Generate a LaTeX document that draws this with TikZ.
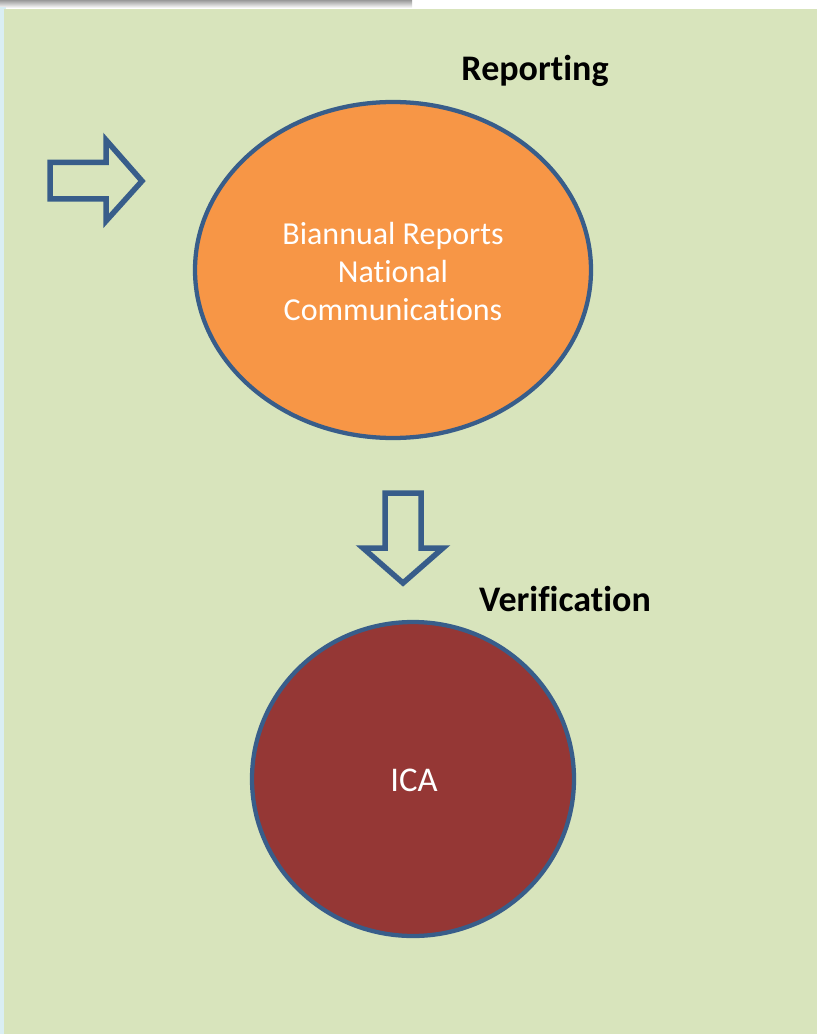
\documentclass[tikz,border=0pt]{standalone}
\usepackage{fontspec}
\setmainfont[Ligatures=NoCommon]{Carlito}
\definecolor{bggreen}{HTML}{D8E4BC}
\definecolor{bgblue}{HTML}{DAEEF3}
\definecolor{edgeblue}{HTML}{385D8A}
\definecolor{orangefill}{HTML}{F79646}
\definecolor{redfill}{HTML}{953735}
\begin{document}
\begin{tikzpicture}[x=0.75pt,y=-0.75pt,
  blockarrow/.style={draw=edgeblue,line width=5.5pt*0.75,line join=miter,fill=none},
  bubble/.style={draw=edgeblue,line width=3.2pt},
  title/.style={font=\fontsize{27}{32}\selectfont\bfseries,text=black},
  inner/.style={font=\fontsize{24}{28.5}\selectfont,text=white,align=center}]
\useasboundingbox (0,0) rectangle (817,1034);
\fill[white] (0,0) rectangle (817,1034);
\shade[top color=gray!80,bottom color=white] (0,0) rectangle (412,8);
\fill[bgblue] (0,7) rectangle (6,1034);
\fill[bggreen] (4,9) rectangle (817,1034);
% block arrows
\draw[blockarrow] (50,162.5) -- (106,162.5) -- (106,140) -- (142,181) -- (106,221) -- (106,199) -- (50,199) -- cycle;
\draw[blockarrow] (385,493) -- (421,493) -- (421,548) -- (443,548) -- (403,583) -- (363,548) -- (385,548) -- cycle;
% ellipses
\draw[bubble,fill=orangefill] (393,270) ellipse [x radius=198, y radius=168];
\node[inner] (rep) at (393,272) {Biannual Reports\\National\\Communications};
\draw[bubble,fill=redfill] (413,779) ellipse [x radius=161, y radius=157];
\node[inner,font=\fontsize{26}{30}\selectfont] (ica) at (414,780) {ICA};
\node[title] (reptitle) at (535,71) {Reporting};
\node[title] (vertitle) at (565,599) {Verification};
\end{tikzpicture}
\end{document}
